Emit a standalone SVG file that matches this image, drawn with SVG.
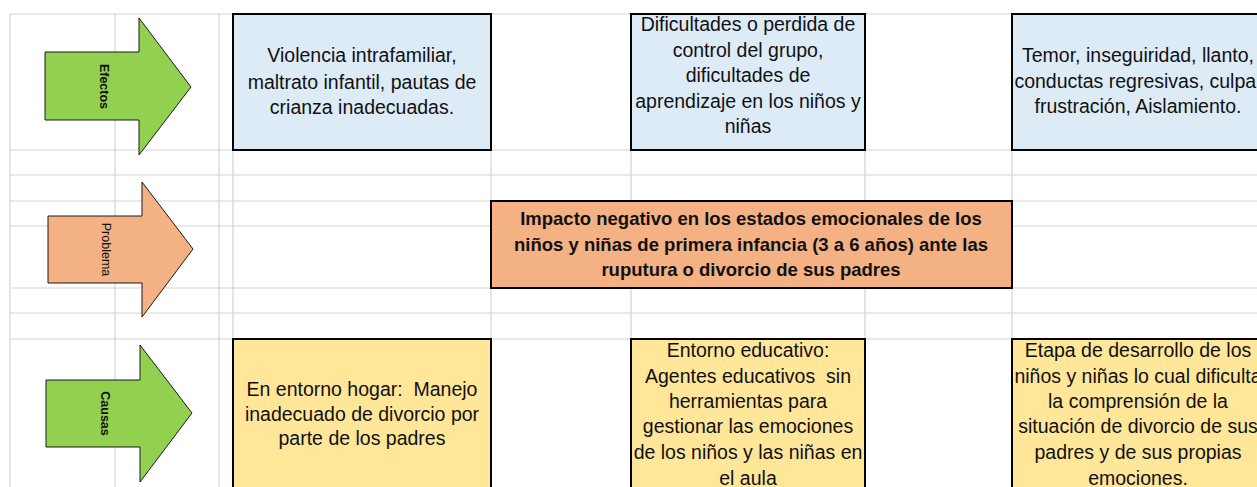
<svg xmlns="http://www.w3.org/2000/svg" width="1257" height="487" viewBox="0 0 1257 487">
<style>
.grid line{stroke:#d4d4d4;stroke-width:1.2}
.box{stroke:#000;stroke-width:2}
.eff{fill:#ddebf7}
.cau{fill:#ffe699}
.prob{fill:#f4b183}
.arrow{stroke:#1a1a1a;stroke-width:1}
.green{fill:#92d050}
.orange{fill:#f4b183}
text{font-family:"Liberation Sans",Arial,sans-serif;fill:#111;white-space:pre}
.t{font-size:19.5px;text-anchor:middle}
.tb{font-size:18.5px;font-weight:bold;text-anchor:middle}
.lab{font-size:12.5px;text-anchor:middle}
</style>
<rect width="1257" height="487" fill="#fff"/>
<g class="grid">
<line x1="10" y1="14" x2="1257" y2="14"/>
<line x1="10" y1="150" x2="1257" y2="150"/>
<line x1="10" y1="175" x2="1257" y2="175"/>
<line x1="10" y1="201" x2="1257" y2="201"/>
<line x1="10" y1="226" x2="1257" y2="226"/>
<line x1="10" y1="288" x2="1257" y2="288"/>
<line x1="10" y1="313" x2="1257" y2="313"/>
<line x1="10" y1="339" x2="1257" y2="339"/>
<line x1="10" y1="14" x2="10" y2="487"/>
<line x1="115" y1="14" x2="115" y2="487"/>
<line x1="219" y1="14" x2="219" y2="487"/>
<line x1="233" y1="14" x2="233" y2="487"/>
<line x1="491" y1="14" x2="491" y2="487"/>
<line x1="631" y1="14" x2="631" y2="487"/>
<line x1="865" y1="14" x2="865" y2="487"/>
<line x1="1012" y1="14" x2="1012" y2="487"/>
</g>
<g id="arrow-efectos">
<polygon class="arrow green" points="45,52 139,52 139,18 191,87 139,155 139,120 45,120"/>
<text class="lab" font-weight="bold" transform="translate(104,86.5) rotate(90)" y="4.5">Efectos</text>
</g>
<g id="arrow-problema">
<polygon class="arrow orange" points="48,216 142,216 142,182 193,249 142,317 142,283 48,283"/>
<text class="lab" transform="translate(106,249.5) rotate(90)" y="4.5">Problema</text>
</g>
<g id="arrow-causas">
<polygon class="arrow green" points="46,380 140,380 140,345 192,413 140,482 140,447 46,447"/>
<text class="lab" font-weight="bold" transform="translate(105.5,413.5) rotate(90)" y="4.5">Causas</text>
</g>
<g id="efecto-1">
<rect class="box eff" x="233" y="14" width="258" height="136"/>
<text class="t" x="362" y="62">Violencia intrafamiliar,</text>
<text class="t" x="362" y="88.5">maltrato infantil, pautas de</text>
<text class="t" x="362" y="114">crianza inadecuadas.</text>
</g>
<g id="efecto-2">
<rect class="box eff" x="631" y="14" width="234" height="136"/>
<text class="t" x="748" y="31">Dificultades o perdida de</text>
<text class="t" x="748" y="56.5">control del grupo,</text>
<text class="t" x="748" y="82">dificultades de</text>
<text class="t" x="748" y="107.5">aprendizaje en los niños y</text>
<text class="t" x="748" y="133">niñas</text>
</g>
<g id="efecto-3">
<rect class="box eff" x="1012" y="14" width="253" height="136"/>
<text class="t" x="1138" y="62">Temor, inseguiridad, llanto,</text>
<text class="t" x="1138" y="88">conductas regresivas, culpa,</text>
<text class="t" x="1138" y="113">frustración, Aislamiento.</text>
</g>
<g id="problema">
<rect class="box prob" x="491" y="201" width="521" height="87"/>
<text class="tb" x="751" y="225">Impacto negativo en los estados emocionales de los</text>
<text class="tb" x="751" y="251">niños y niñas de primera infancia (3 a 6 años) ante las</text>
<text class="tb" x="751" y="276">ruputura o divorcio de sus padres</text>
</g>
<g id="causa-1">
<rect class="box cau" x="233" y="339" width="258" height="160"/>
<text class="t" x="362" y="396">En entorno hogar:  Manejo</text>
<text class="t" x="362" y="421">inadecuado de divorcio por</text>
<text class="t" x="362" y="445">parte de los padres</text>
</g>
<g id="causa-2">
<rect class="box cau" x="631" y="339" width="234" height="160"/>
<text class="t" x="748" y="357">Entorno educativo:</text>
<text class="t" x="748" y="383">Agentes educativos  sin</text>
<text class="t" x="748" y="408">herramientas para</text>
<text class="t" x="748" y="433">gestionar las emociones</text>
<text class="t" x="748" y="459">de los niños y las niñas en</text>
<text class="t" x="748" y="485">el aula</text>
</g>
<g id="causa-3">
<rect class="box cau" x="1012" y="339" width="253" height="160"/>
<text class="t" x="1138" y="357">Etapa de desarrollo de los</text>
<text class="t" x="1138" y="383">niños y niñas lo cual dificulta</text>
<text class="t" x="1138" y="408">la comprensión de la</text>
<text class="t" x="1138" y="433">situación de divorcio de sus</text>
<text class="t" x="1138" y="459">padres y de sus propias</text>
<text class="t" x="1138" y="485">emociones.</text>
</g>
<g id="connectors"/>
</svg>
